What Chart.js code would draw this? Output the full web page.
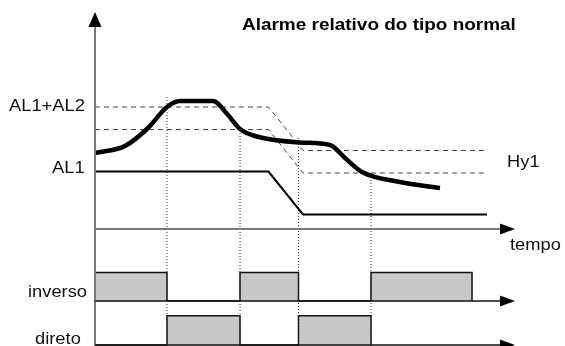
<!DOCTYPE html>
<html>
<head>
<meta charset="utf-8">
<script src="https://cdn.jsdelivr.net/npm/chart.js@4.4.1/dist/chart.umd.min.js"></script>
<style>
    html, body { margin: 0; padding: 0; background: #fff; }
    #wrap { width: 565px; height: 346px; }
</style>
</head>
<body>
<div id="wrap"><canvas id="alarmChart"></canvas></div>
<script>
// time in arbitrary units, t = 0 on the vertical axis
const switchTimes = [7.2, 14.5, 20.35, 27.6];
const dottedTops = [13.2, 9.9, 9.1, 5.2];

// measured process value (thick curve)
const processTimes = [0, 3.0, 5.3, 7.2, 8.5, 10.2, 11.8, 13.3, 14.5, 16.0, 20.5, 23.5, 25.0, 26.7, 30.5, 34.5];
const processValues = [7.6, 8.3, 10.1, 12.2, 12.8, 12.8, 12.8, 11.4, 10.0, 9.3, 8.65, 8.4, 7.1, 5.7, 4.7, 4.1];

// set points (AL1 shifts down between 17.35 and 20.8)
const thresholdTimes = [0, 17.35, 20.8, 39.2];
const al1Values = [5.75, 5.75, 1.45, 1.45];
const al1al2Values = [12.2, 12.2, 7.85, 7.85];
const al1al2HyValues = [9.95, 9.95, 5.6, 5.6];

// relay outputs (1 = on)
const inversoTimes = [0, 7.2, 14.5, 20.35, 27.6, 37.7];
const inversoStates = [1, 0, 1, 0, 1, 0];
const diretoTimes = [0, 7.2, 14.5, 20.35, 27.6];
const diretoStates = [0, 1, 0, 1, 0];

const titleText = 'Alarme relativo do tipo normal';
const levelLabels = ['AL1+AL2', 'AL1', 'Hy1'];
const outputLabels = ['inverso', 'direto'];
const timeLabel = 'tempo';

// band levels for the two relay rows
const INV_BASE = -7.2, INV_TOP = -4.35;
const DIR_BASE = -11.6, DIR_TOP = -8.67;

const pts = (xs, ys) => xs.map((x, i) => ({ x: x, y: ys[i] }));

function stateLevel(states, base, top) {
    return states.map(s => s ? top : base);
}

const dottedSets = switchTimes.map((t, i) => ({
    data: [{ x: t, y: dottedTops[i] }, { x: t, y: -11.7 }],
    borderColor: '#333',
    borderWidth: 1,
    borderDash: [1, 2],
    fill: false
}));

function drawText(ctx, text, x, y, font) {
    ctx.save();
    ctx.translate(x, y);
    ctx.scale(1.11, 1);
    ctx.font = font;
    ctx.fillStyle = '#111';
    ctx.textAlign = 'left';
    ctx.textBaseline = 'alphabetic';
    ctx.fillText(text, 0, 0);
    ctx.restore();
}

const diagramDecor = {
    id: 'diagramDecor',
    afterDatasetsDraw(chart) {
        const ctx = chart.ctx;
        const xs = chart.scales.x, ys = chart.scales.y;
        const px = v => xs.getPixelForValue(v);
        const py = v => ys.getPixelForValue(v);

        ctx.save();
        // vertical axis
        ctx.strokeStyle = '#7a7a7a';
        ctx.lineWidth = 2;
        ctx.beginPath();
        ctx.moveTo(px(0), py(-11.7));
        ctx.lineTo(px(0), py(20.3));
        ctx.stroke();
        // time axis
        ctx.beginPath();
        ctx.moveTo(px(0), py(0));
        ctx.lineTo(px(40.6), py(0));
        ctx.stroke();
        // relay baselines
        ctx.strokeStyle = '#111';
        ctx.lineWidth = 1.5;
        [INV_BASE, DIR_BASE].forEach(b => {
            ctx.beginPath();
            ctx.moveTo(px(0), py(b));
            ctx.lineTo(px(40.6), py(b));
            ctx.stroke();
        });

        // arrow heads
        ctx.fillStyle = '#000';
        ctx.beginPath();
        ctx.moveTo(px(0), py(21.7));
        ctx.lineTo(px(0) - 6.5, py(20.2));
        ctx.lineTo(px(0) + 6.5, py(20.2));
        ctx.closePath();
        ctx.fill();
        [0, INV_BASE, DIR_BASE].forEach(b => {
            ctx.beginPath();
            ctx.moveTo(px(42.0), py(b));
            ctx.lineTo(px(40.5), py(b) - 5.5);
            ctx.lineTo(px(40.5), py(b) + 5.5);
            ctx.closePath();
            ctx.fill();
        });
        ctx.restore();

        const f = '16.5px "Liberation Sans", Arial, sans-serif';
        ctx.save();
        ctx.translate(px(14.7), py(19.9));
        ctx.scale(1.115, 1);
        ctx.font = 'bold 17px "Liberation Sans", Arial, sans-serif';
        ctx.fillStyle = '#000';
        ctx.fillText(titleText, 0, 0);
        ctx.restore();

        drawText(ctx, levelLabels[0], px(-8.6), py(11.8), f);
        drawText(ctx, levelLabels[1], px(-4.3), py(5.6), f);
        drawText(ctx, levelLabels[2], px(41.2), py(6.2), f);
        drawText(ctx, timeLabel, px(41.5), py(-2.1), f);
        drawText(ctx, outputLabels[0], px(-6.7), py(-6.8), f);
        drawText(ctx, outputLabels[1], px(-6.0), py(-11.5), f);
    }
};

new Chart(document.getElementById('alarmChart'), {
    type: 'line',
    data: {
        datasets: [
            {
                data: pts(processTimes, processValues),
                borderColor: '#000',
                borderWidth: 4.5,
                cubicInterpolationMode: 'monotone',
                borderCapStyle: 'butt',
                fill: false
            },
            {
                data: pts(thresholdTimes, al1Values),
                borderColor: '#000',
                borderWidth: 2,
                fill: false
            },
            {
                data: pts(thresholdTimes, al1al2Values),
                borderColor: '#444',
                borderWidth: 1,
                borderDash: [5, 4],
                fill: false
            },
            {
                data: pts(thresholdTimes, al1al2HyValues),
                borderColor: '#444',
                borderWidth: 1,
                borderDash: [5, 4],
                fill: false
            },
            ...dottedSets,
            {
                data: pts(inversoTimes, stateLevel(inversoStates, INV_BASE, INV_TOP)),
                stepped: true,
                borderColor: '#111',
                borderWidth: 1.5,
                backgroundColor: '#c8c8c8',
                fill: { value: INV_BASE }
            },
            {
                data: pts(diretoTimes, stateLevel(diretoStates, DIR_BASE, DIR_TOP)),
                stepped: true,
                borderColor: '#111',
                borderWidth: 1.5,
                backgroundColor: '#c8c8c8',
                fill: { value: DIR_BASE }
            }
        ]
    },
    options: {
        responsive: true,
        maintainAspectRatio: false,
        animation: false,
        layout: { padding: 0 },
        elements: {
            point: { radius: 0, hoverRadius: 0 }
        },
        plugins: {
            legend: { display: false },
            tooltip: { enabled: false },
            title: { display: false }
        },
        scales: {
            x: { type: 'linear', min: -9.5, max: 47, display: false },
            y: { type: 'linear', min: -11.7, max: 22.9, display: false }
        }
    },
    plugins: [diagramDecor]
});
</script>
</body>
</html>
